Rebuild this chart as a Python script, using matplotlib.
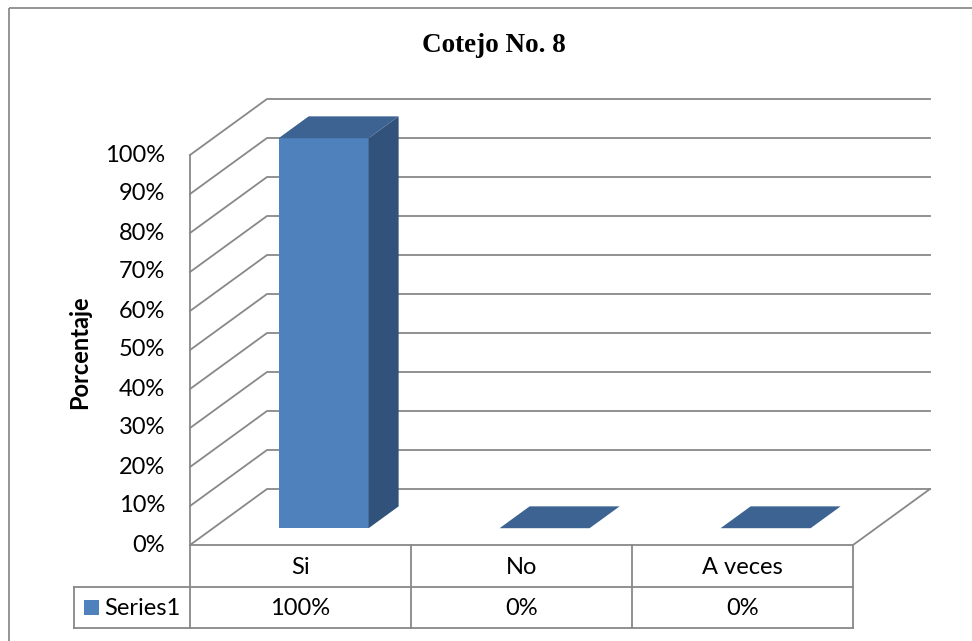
import matplotlib.pyplot as plt
from matplotlib.patches import Polygon, Rectangle

# ---------- Data ----------
categories = ["Si", "No", "A veces"]
values = [100, 0, 0]
value_labels = ["100%", "0%", "0%"]
series_name = "Series1"
tick_values = [0, 10, 20, 30, 40, 50, 60, 70, 80, 90, 100]
tick_labels = [f"{t}%" for t in tick_values]
title = "Cotejo No. 8"
y_title = "Porcentaje"

# ---------- Layout (pixels) ----------
X0, X1 = 190, 853          # front edge of the floor
Y0, PX_PER_PCT = 545, 3.9  # front 0% line and scale
DEPTH_DX, DEPTH_DY = 77, -56
BAR_HALF = 45
BAR_D0, BAR_D1 = 0.30, 0.69

GRID = "#888888"
FRONT = "#4F81BD"
TOP = "#3C6391"
SIDE = "#31527A"
FONT = "Lato"
FS = 17


def proj(x, pct, depth):
    """Front-plane x, value in %, depth 0..1 -> pixel coords."""
    return (x + depth * DEPTH_DX, Y0 - pct * PX_PER_PCT + depth * DEPTH_DY)


fig = plt.figure(figsize=(9.72, 6.41), dpi=100)
ax = fig.add_axes([0, 0, 1, 1])
ax.set_xlim(0, 972)
ax.set_ylim(641, 0)
ax.axis("off")

# chart area border
ax.add_patch(Rectangle((9, 8), 990, 650, fill=False, ec="#8C8C8C", lw=1.3))

# ---------- Walls and gridlines ----------
for t, lab in zip(tick_values, tick_labels):
    fx, fy = proj(X0, t, 0)
    bx, by = proj(X0, t, 1)
    ex, _ = proj(X1, t, 1)
    ax.plot([fx, bx, ex], [fy, by, by], color=GRID, lw=1.3, zorder=1)
    ax.text(fx - 25, fy, lab, ha="right", va="center", fontsize=FS,
            family=FONT, color="black")

# left wall front edge
ax.plot([X0, X0], [proj(X0, 0, 0)[1], proj(X0, 100, 0)[1]], color=GRID, lw=1.3, zorder=1)
# floor front and right edges
fr = proj(X1, 0, 0)
br = proj(X1, 0, 1)
ax.plot([X0, fr[0], br[0]], [Y0, fr[1], br[1]], color=GRID, lw=1.3, zorder=1)

# ---------- Bars ----------
cat_w = (X1 - X0) / len(categories)
for i, v in enumerate(values):
    c = X0 + (i + 0.5) * cat_w
    l, r = c - BAR_HALF, c + BAR_HALF
    if v > 0:
        front = [proj(l, 0, BAR_D0), proj(r, 0, BAR_D0), proj(r, v, BAR_D0), proj(l, v, BAR_D0)]
        side = [proj(r, 0, BAR_D0), proj(r, 0, BAR_D1), proj(r, v, BAR_D1), proj(r, v, BAR_D0)]
        ax.add_patch(Polygon(front, closed=True, fc=FRONT, ec="none", zorder=3))
        ax.add_patch(Polygon(side, closed=True, fc=SIDE, ec="none", zorder=3))
    top = [proj(l, v, BAR_D0), proj(r, v, BAR_D0), proj(r, v, BAR_D1), proj(l, v, BAR_D1)]
    ax.add_patch(Polygon(top, closed=True, fc=TOP, ec="none", zorder=3))

# ---------- Data table ----------
row1, row2, row3 = 545, 587, 628
leg_left = 74
for k in range(len(categories) + 1):
    x = X0 + k * cat_w
    ax.plot([x, x], [row1, row3], color=GRID, lw=1.3, zorder=1)
ax.plot([leg_left, X1], [row2, row2], color=GRID, lw=1.3)
ax.plot([leg_left, X1], [row3, row3], color=GRID, lw=1.3)
ax.plot([leg_left, leg_left], [row2, row3], color=GRID, lw=1.3)

for i, (cat, lab) in enumerate(zip(categories, value_labels)):
    cx = X0 + (i + 0.5) * cat_w
    ax.text(cx, (row1 + row2) / 2 + 1, cat, ha="center", va="center",
            fontsize=FS, family=FONT)
    ax.text(cx, (row2 + row3) / 2 + 1, lab, ha="center", va="center",
            fontsize=FS, family=FONT)

ax.add_patch(Rectangle((84, 600), 15, 15, fc=FRONT, ec="none"))
ax.text(104, (row2 + row3) / 2 + 1, series_name, ha="left", va="center",
        fontsize=FS, family=FONT)

# ---------- Titles ----------
ax.text(494, 45, title, ha="center", va="center", fontsize=19.5,
        family="Liberation Serif", fontweight="bold")
ax.text(80, 352, y_title, ha="center", va="center", rotation=90,
        fontsize=17, family=FONT, fontweight="bold")

fig.savefig("out.png", dpi=100)
